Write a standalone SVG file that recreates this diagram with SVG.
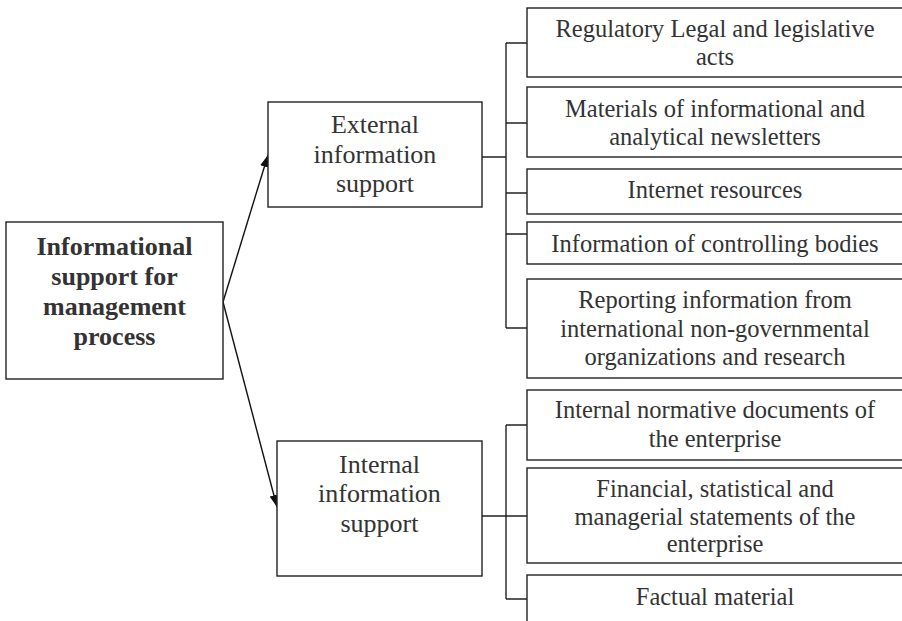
<svg xmlns="http://www.w3.org/2000/svg" width="902" height="621" viewBox="0 0 902 621">
  <style>
    .box { fill: #ffffff; stroke: #222222; stroke-width: 1.4; }
    .lbl { font-family: "Liberation Serif", "Times New Roman", serif; font-size: 24.5px; fill: #333333; text-anchor: middle; }
    .mid { font-size: 26px; }
    .root { font-weight: bold; font-size: 26px; }
    .wire { fill: none; stroke: #222222; stroke-width: 1.4; }
    .arrow { fill: none; stroke: #111111; stroke-width: 1.4; marker-end: url(#head); }
  </style>
  <defs>
    <marker id="head" viewBox="0 0 12 10" refX="12" refY="5" markerWidth="12" markerHeight="10" markerUnits="userSpaceOnUse" orient="auto">
      <path d="M0,0.5 L12,5 L0,9.5 Z" fill="#111111"/>
    </marker>
  </defs>
  <rect width="902" height="621" fill="#ffffff"/>

  <!-- connectors -->
  <g id="connectors">
    <path class="arrow" d="M223,302 L268,155"/>
    <path class="arrow" d="M223,302 L277,507"/>
    <!-- external bus -->
    <path class="wire" d="M482,157 H506 M506,43 V328 M506,43 H527 M506,123 H527 M506,193 H527 M506,234 H527 M506,328 H527"/>
    <!-- internal bus -->
    <path class="wire" d="M482,516 H506 M506,425 V599 M506,425 H527 M506,516 H527 M506,599 H527"/>
  </g>

  <g id="root-node">
    <rect class="box" x="6" y="222" width="217" height="157"/>
    <text class="lbl root" x="114.5" y="255">Informational</text>
    <text class="lbl root" x="114.5" y="285">support for</text>
    <text class="lbl root" x="114.5" y="315">management</text>
    <text class="lbl root" x="114.5" y="345">process</text>
  </g>

  <g id="external-node">
    <rect class="box" x="268" y="102" width="214" height="105"/>
    <text class="lbl mid" x="375" y="133">External</text>
    <text class="lbl mid" x="375" y="163">information</text>
    <text class="lbl mid" x="375" y="192">support</text>
  </g>

  <g id="internal-node">
    <rect class="box" x="277" y="441" width="205" height="135"/>
    <text class="lbl mid" x="379.5" y="473">Internal</text>
    <text class="lbl mid" x="379.5" y="502">information</text>
    <text class="lbl mid" x="379.5" y="532">support</text>
  </g>

  <g id="ext-legal">
    <rect class="box" x="527" y="8" width="380" height="69"/>
    <text class="lbl" x="715" y="37">Regulatory Legal and legislative</text>
    <text class="lbl" x="715" y="65">acts</text>
  </g>

  <g id="ext-newsletters">
    <rect class="box" x="527" y="87" width="380" height="70"/>
    <text class="lbl" x="715" y="117">Materials of informational and</text>
    <text class="lbl" x="715" y="145">analytical newsletters</text>
  </g>

  <g id="ext-internet">
    <rect class="box" x="527" y="169" width="380" height="45"/>
    <text class="lbl" x="715" y="198">Internet resources</text>
  </g>

  <g id="ext-controlling">
    <rect class="box" x="527" y="222" width="380" height="42"/>
    <text class="lbl" x="715" y="252">Information of controlling bodies</text>
  </g>

  <g id="ext-reporting">
    <rect class="box" x="527" y="279" width="380" height="99"/>
    <text class="lbl" x="715" y="308">Reporting information from</text>
    <text class="lbl" x="715" y="337">international non-governmental</text>
    <text class="lbl" x="715" y="365">organizations and research</text>
  </g>

  <g id="int-normative">
    <rect class="box" x="527" y="390" width="380" height="70"/>
    <text class="lbl" x="715" y="418">Internal normative documents of</text>
    <text class="lbl" x="715" y="447">the enterprise</text>
  </g>

  <g id="int-statements">
    <rect class="box" x="527" y="468" width="380" height="95"/>
    <text class="lbl" x="715" y="497">Financial, statistical and</text>
    <text class="lbl" x="715" y="525">managerial statements of the</text>
    <text class="lbl" x="715" y="552">enterprise</text>
  </g>

  <g id="int-factual">
    <rect class="box" x="527" y="575" width="380" height="60"/>
    <text class="lbl" x="715" y="605">Factual material</text>
  </g>
</svg>
